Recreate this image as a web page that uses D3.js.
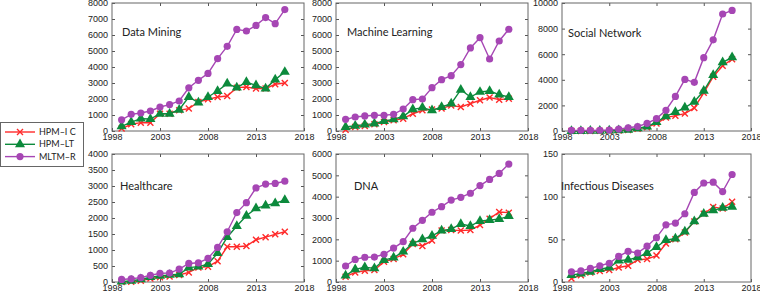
<!DOCTYPE html>
<html>
<head>
<meta charset="utf-8">
<script src="https://cdn.jsdelivr.net/npm/d3@7"></script>
<style>
  body { margin: 0; background: #fff; }
  svg { display: block; font-family: Lato, "Open Sans", sans-serif; }
  .tick text { fill: #222; font-size: 9px; }
  .tick line { stroke: #555; }
</style>
</head>
<body>
<div class="container"></div>
<script>
// years on the x axis
const years = d3.range(1999, 2017);
const xTicks = [1998, 2003, 2008, 2013, 2018];

const seriesNames = ['HPM\u2013I C', 'HPM\u2013LT', 'MLTM\u2013R'];

// Data Mining
const dmIC = [150, 420, 520, 520, 1080, 1080, 1300, 1400, 1810, 1980, 2125, 2190, 2710, 2750, 2650, 2650, 2920, 3000];
const dmLT = [290, 560, 770, 750, 1080, 1080, 1330, 2125, 1770, 2125, 2500, 2960, 2710, 3060, 2850, 2650, 3210, 3690];
const dmR = [700, 1040, 1125, 1250, 1500, 1650, 1875, 2700, 3170, 3600, 4520, 5290, 6350, 6250, 6600, 7090, 6710, 7590];

// Machine Learning
const mlIC = [80, 250, 310, 420, 560, 670, 770, 1080, 1290, 1350, 1400, 1600, 1500, 1710, 1920, 2090, 1960, 2020];
const mlLT = [250, 330, 400, 460, 625, 730, 920, 1350, 1460, 1290, 1500, 1710, 2580, 2125, 2440, 2500, 2270, 2125];
const mlR = [730, 875, 940, 980, 980, 1040, 1375, 1960, 2000, 2710, 3210, 3460, 4150, 5190, 5830, 4500, 5625, 6360];

// Social Network
const snIC = [0, 0, 0, 10, 20, 40, 80, 170, 300, 580, 1050, 1200, 1360, 1800, 2980, 4240, 5100, 5600];
const snLT = [0, 0, 10, 20, 30, 50, 100, 200, 350, 700, 1150, 1470, 1830, 2280, 3140, 4370, 5370, 5760];
const snR = [50, 50, 50, 60, 80, 150, 250, 350, 600, 970, 1620, 2700, 4030, 3800, 5730, 7120, 9140, 9420];

// Healthcare
const hcIC = [0, 10, 40, 110, 150, 170, 220, 300, 450, 480, 650, 1100, 1100, 1125, 1320, 1400, 1490, 1570];
const hcLT = [10, 40, 80, 150, 190, 220, 240, 450, 480, 560, 900, 1400, 1750, 2070, 2300, 2385, 2460, 2560];
const hcR = [80, 100, 135, 210, 270, 280, 400, 580, 600, 740, 1080, 1570, 2170, 2480, 2940, 3060, 3080, 3150];

// DNA
const dnaIC = [250, 450, 530, 560, 950, 1080, 1300, 1780, 1690, 1940, 2410, 2440, 2410, 2440, 2670, 2970, 3280, 3250];
const dnaLT = [300, 590, 690, 640, 1030, 1140, 1420, 1810, 2000, 2160, 2410, 2480, 2720, 2625, 2860, 2900, 2950, 3090];
const dnaR = [750, 1060, 1160, 1170, 1300, 1590, 1890, 2520, 2890, 3270, 3530, 3840, 3970, 4160, 4520, 4810, 5090, 5530];

// Infectious Diseases
const idIC = [4, 8, 11, 13, 14, 17, 19, 26, 27, 31, 45, 50, 58, 71, 80, 88, 86, 94];
const idLT = [8, 10, 12, 15, 17, 25, 26, 29, 34, 41, 49, 51, 59, 71, 80, 84, 87, 88];
const idR = [12, 13, 16, 19, 22, 30, 36, 34, 42, 52, 67, 69, 80, 105, 116, 117, 106, 126];

const panels = [
  { title: 'Data Mining', series: [dmIC, dmLT, dmR], yMax: 8000, yTicks: d3.range(0, 8001, 1000) },
  { title: 'Machine Learning', series: [mlIC, mlLT, mlR], yMax: 8000, yTicks: d3.range(0, 8001, 1000) },
  { title: 'Social Network', series: [snIC, snLT, snR], yMax: 10000, yTicks: d3.range(0, 10001, 2000) },
  { title: 'Healthcare', series: [hcIC, hcLT, hcR], yMax: 4000, yTicks: d3.range(0, 4001, 500) },
  { title: 'DNA', series: [dnaIC, dnaLT, dnaR], yMax: 6000, yTicks: d3.range(0, 6001, 1000) },
  { title: 'Infectious Diseases', series: [idIC, idLT, idR], yMax: 150, yTicks: [0, 50, 100, 150] },
];

const colors = ['#ff2a2a', '#0c8a3c', '#a646b4'];
const markers = ['cross', 'triangle', 'circle'];

// panel boxes (left, right) per column and (top, bottom) per row
const cols = [[112, 304], [336, 528], [562, 751]];
const rows = [[3, 131], [154, 282]];
const titlePos = [[122, 36], [347, 36], [568, 37], [120, 190], [354, 190], [561, 190]];

const svg = d3.select('.container').append('svg')
  .attr('width', 760)
  .attr('height', 292);

function drawMarker(g, type, color) {
  if (type === 'cross') {
    g.append('path')
      .attr('d', 'M-3,-3L3,3M-3,3L3,-3')
      .attr('stroke', color)
      .attr('stroke-width', 1.4)
      .attr('fill', 'none');
  } else if (type === 'triangle') {
    g.append('path')
      .attr('d', d3.symbol().type(d3.symbolTriangle).size(44)())
      .attr('fill', color);
  } else {
    g.append('circle')
      .attr('r', 3.6)
      .attr('fill', color);
  }
}

panels.forEach((p, i) => {
  const [x0, x1] = cols[i % 3];
  const [y0, y1] = rows[Math.floor(i / 3)];

  const x = d3.scaleLinear().domain([1998, 2018]).range([x0, x1]);
  const y = d3.scaleLinear().domain([0, p.yMax]).range([y1, y0]);

  const g = svg.append('g');

  // inward ticks on all four sides
  g.append('g')
    .attr('transform', `translate(0,${y1})`)
    .call(d3.axisBottom(x).tickValues(xTicks).tickFormat(d3.format('d')).tickSize(-3).tickPadding(3))
    .call(a => a.select('.domain').remove());
  g.append('g')
    .attr('transform', `translate(0,${y0})`)
    .call(d3.axisTop(x).tickValues(xTicks.slice(1, -1)).tickFormat('').tickSize(-3))
    .call(a => a.select('.domain').remove());
  g.append('g')
    .attr('transform', `translate(${x0},0)`)
    .call(d3.axisLeft(y).tickValues(p.yTicks).tickFormat(d3.format('d')).tickSize(-3).tickPadding(4))
    .call(a => a.select('.domain').remove());
  g.append('g')
    .attr('transform', `translate(${x1},0)`)
    .call(d3.axisRight(y).tickValues(p.yTicks.slice(1, -1)).tickFormat('').tickSize(-3))
    .call(a => a.select('.domain').remove());

  g.append('rect')
    .attr('x', x0)
    .attr('y', y0)
    .attr('width', x1 - x0)
    .attr('height', y1 - y0)
    .attr('fill', 'none')
    .attr('stroke', '#666')
    .attr('stroke-width', 1);

  const line = d3.line()
    .x((d, j) => x(years[j]))
    .y(d => y(d));

  p.series.forEach((s, k) => {
    g.append('path')
      .datum(s)
      .attr('d', line)
      .attr('fill', 'none')
      .attr('stroke', colors[k])
      .attr('stroke-width', 1.4);
    s.forEach((v, j) => {
      const m = g.append('g').attr('transform', `translate(${x(years[j])},${y(v)})`);
      drawMarker(m, markers[k], colors[k]);
    });
  });

  g.append('text')
    .attr('x', titlePos[i][0])
    .attr('y', titlePos[i][1])
    .attr('font-size', 11)
    .attr('fill', '#222')
    .text(p.title);
});

// legend
const legend = svg.append('g');
legend.append('rect')
  .attr('x', 0.5)
  .attr('y', 122.5)
  .attr('width', 83)
  .attr('height', 44)
  .attr('fill', '#fff')
  .attr('stroke', '#666');

seriesNames.forEach((name, k) => {
  const ly = 132 + k * 12.3;
  legend.append('line')
    .attr('x1', 5)
    .attr('x2', 35)
    .attr('y1', ly)
    .attr('y2', ly)
    .attr('stroke', colors[k])
    .attr('stroke-width', 1.4);
  const m = legend.append('g').attr('transform', `translate(20,${ly})`);
  drawMarker(m, markers[k], colors[k]);
  legend.append('text')
    .attr('x', 39)
    .attr('y', ly + 3)
    .attr('font-size', 9)
    .attr('fill', '#222')
    .text(name);
});
</script>
</body>
</html>
